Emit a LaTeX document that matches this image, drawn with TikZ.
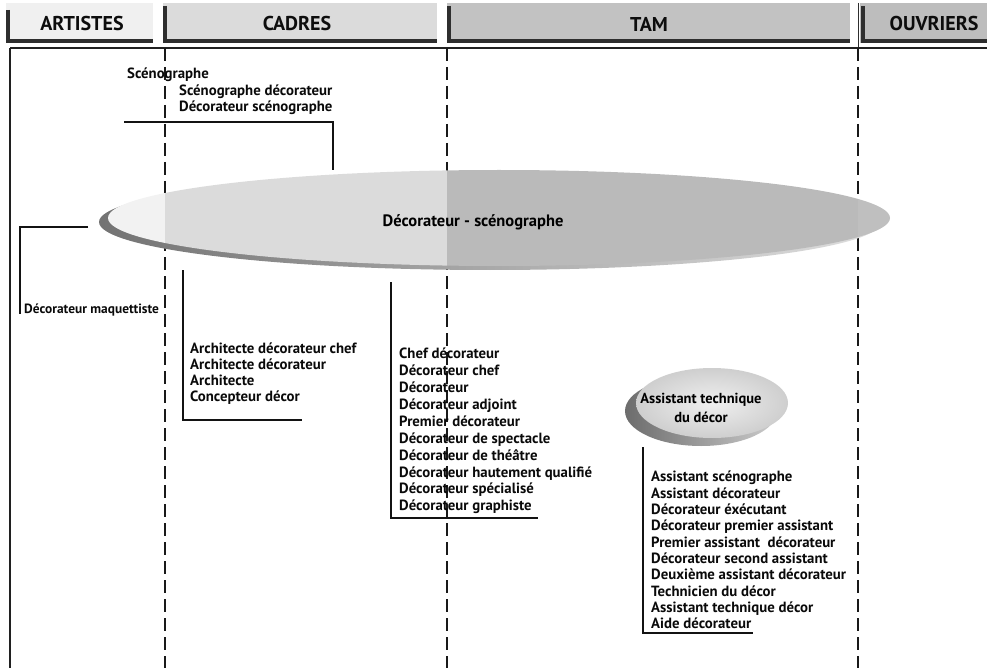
\documentclass[tikz,border=0pt]{standalone}
\usepackage{fontspec}
\setmainfont{PT Sans}
\definecolor{tabA}{gray}{0.94}
\definecolor{tabC}{gray}{0.86}
\definecolor{tabT}{gray}{0.76}
\definecolor{tabO}{gray}{0.74}
\definecolor{edge}{gray}{0.18}
\definecolor{ellA}{gray}{0.95}
\definecolor{ellC}{gray}{0.86}
\definecolor{ellT}{gray}{0.73}
\definecolor{ellO}{gray}{0.75}
\begin{document}
\begin{tikzpicture}[x=1pt,y=-1pt,
  tabedge/.style={line width=3.5pt, color=edge, line join=miter},
  frameline/.style={line width=1.3pt, color=gray!25!black},
  colsep/.style={line width=1.1pt, color=gray!20!black, dash pattern=on 13pt off 6pt},
  bracket/.style={line width=1.1pt, color=gray!15!black},
  headtext/.style={font=\fontsize{20}{24}\selectfont\bfseries, text=gray!10!black, inner sep=0},
  item/.style={font=\fontsize{14.8}{17}\selectfont\bfseries, text=gray!8!black, inner sep=0,
    text height=10.5pt, text depth=3pt, anchor=west},
  ovallabel/.style={font=\fontsize{16.5}{19}\selectfont\bfseries, text=black, inner sep=0, align=center},
]
\useasboundingbox (0,0) rectangle (987,668);

% ---- header tabs
\fill[tabA] (6,3) rectangle (153,43);
\fill[tabC] (163,3) rectangle (437,43);
\fill[tabT] (447,3) rectangle (850,43);
\fill[tabO] (860,3) rectangle (987,43);
\draw[tabedge] (8,10) -- (8,41) -- (153,41);
\draw[tabedge] (165,6) -- (165,41) -- (437,41);
\draw[tabedge] (449,6) -- (449,41) -- (850,41);
\draw[tabedge] (863,6) -- (863,41) -- (987,41);
\draw[line width=0.8pt, color=edge] (858,3) -- (858,48);
\node[headtext] (hArt) at (82,24) {ARTISTES};
\node[headtext] (hCad) at (297,24) {CADRES};
\node[headtext] (hTam) at (649,24) {TAM};
\node[headtext] (hOuv) at (934,24) {OUVRIERS};

% ---- frame and column separators
\draw[frameline] (10,48) -- (987,48);
\draw[frameline] (10,48) -- (10,668);
\draw[colsep] (165,48) -- (165,668);
\draw[colsep] (447,48) -- (447,668);
\draw[colsep] (858,48) -- (858,668);

% ---- anchor points of the connectors
\coordinate (scTop) at (124,122);
\coordinate (scBend) at (333,122);
\coordinate (scEll) at (333,170);
\coordinate (maEll) at (88,227);
\coordinate (maBend) at (20,227);
\coordinate (maEnd) at (20,314);
\coordinate (arEll) at (183,270);
\coordinate (arBend) at (183,420);
\coordinate (arEnd) at (302,420);
\coordinate (chEll) at (391,282);
\coordinate (chBend) at (391,518);
\coordinate (chEnd) at (538,518);
\coordinate (asEll) at (643,447);
\coordinate (asBend) at (643,633);
\coordinate (asEnd) at (753,633);

\draw[bracket] (scTop) -- (scBend) -- (scEll);
\draw[bracket] (maEll) -- (maBend) -- (maEnd);
\draw[bracket] (arEll) -- (arBend) -- (arEnd);
\draw[bracket] (chEll) -- (chBend) -- (chEnd);
\draw[bracket] (asEll) -- (asBend) -- (asEnd);

% ---- main oval with its shadow
\shade[left color=gray!90!black, right color=gray!25] (490,222) ellipse [x radius=391, y radius=48];
\begin{scope}
  \clip (499,218) ellipse [x radius=391, y radius=48];
  \fill[ellA] (100,160) rectangle (165,280);
  \fill[ellC] (165,160) rectangle (447,280);
  \fill[ellT] (447,160) rectangle (858,280);
  \fill[ellO] (858,160) rectangle (900,280);
\end{scope}
\node[ovallabel] (deco) at (473,222) {Décorateur - scénographe};

% ---- small oval with its shadow
\shade[left color=gray!85!black, right color=gray!40] (701,411) ellipse [x radius=76, y radius=35];
\shade[inner color=gray!12, outer color=gray!38] (712,403) ellipse [x radius=76, y radius=35];
\node[ovallabel, font=\fontsize{14.5}{19}\selectfont\bfseries] (assist) at (701,408)
  {Assistant technique\\du décor};

% ---- job titles
\node[item] (sc1) at (127,75) {Scénographe};
\node[item] (sc2) at (179,92) {Scénographe décorateur};
\node[item] (sc3) at (179,108) {Décorateur scénographe};

\node[item, font=\fontsize{13.4}{16}\selectfont\bfseries] (ma1) at (24,310) {Décorateur maquettiste};

\foreach \t [count=\i] in {Architecte décorateur chef, Architecte décorateur,
    Architecte, Concepteur décor}
  \node[item] (ar\i) at (190,{350+(\i-1)*16}) {\t};

\foreach \t [count=\i] in {Chef décorateur, Décorateur chef, Décorateur,
    Décorateur adjoint, Premier décorateur, Décorateur de spectacle,
    Décorateur de théâtre, Décorateur hautement qualifié,
    Décorateur spécialisé, Décorateur graphiste}
  \node[item] (ch\i) at (399,{355+(\i-1)*16.9}) {\t};

\foreach \t [count=\i] in {Assistant scénographe, Assistant décorateur,
    Décorateur éxécutant, Décorateur premier assistant,
    Premier assistant\ \ décorateur, Décorateur second assistant,
    Deuxième assistant décorateur, Technicien du décor,
    Assistant technique décor, Aide décorateur}
  \node[item] (as\i) at (651,{478+(\i-1)*16.33}) {\t};
\end{tikzpicture}
\end{document}
